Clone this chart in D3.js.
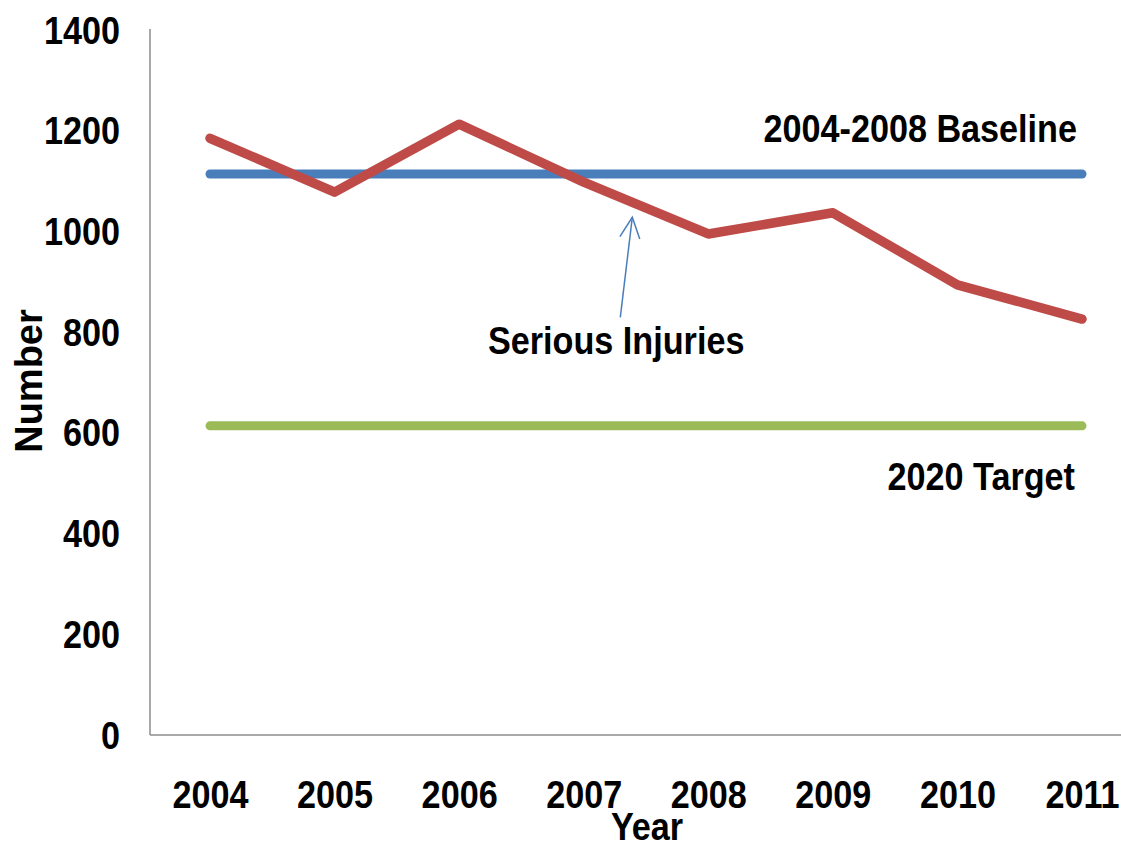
<!DOCTYPE html>
<html>
<head>
<meta charset="utf-8">
<script src="https://cdn.jsdelivr.net/npm/d3@7"></script>
<style>
  html, body { margin: 0; padding: 0; background: #fff; }
  svg { display: block; }
  text { font-family: "Liberation Sans", Arial, sans-serif; font-weight: bold; fill: #000; }
</style>
</head>
<body>
<svg id="chart" width="1121" height="848"></svg>
<script>
// Serious injuries per year, with the 2004-2008 baseline and the 2020 target
const years = ["2004", "2005", "2006", "2007", "2008", "2009", "2010", "2011"];
const seriousInjuries = [1185, 1078, 1213, 1098, 995, 1037, 894, 826];
const baselineValue = 1114;
const targetValue = 614;
const yTicks = [0, 200, 400, 600, 800, 1000, 1200, 1400];

const W = 1121, H = 848;
const plot = { left: 150, top: 30, bottom: 735, right: 1121 };
const fontSize = 38;
const squeeze = 0.9; // horizontal compression of the lettering

const svg = d3.select("#chart");

const x = d3.scalePoint().domain(years).range([210, 1082]);
const y = d3.scaleLinear().domain([0, 1400]).range([plot.bottom, plot.top]);

function label(parent, str, tx, ty, anchor) {
  return parent.append("text")
    .attr("transform", `translate(${tx},${ty}) scale(${squeeze},1)`)
    .attr("text-anchor", anchor)
    .attr("font-size", fontSize)
    .text(str);
}

// Axes (no tick marks, grey rules)
const yAxis = d3.axisLeft(y).tickValues(yTicks).tickSize(0).tickPadding(0).tickFormat(d3.format("d"));
const gy = svg.append("g").attr("transform", `translate(${plot.left},0)`).call(yAxis);
gy.select(".domain").remove();
gy.selectAll(".tick text")
  .attr("font-size", fontSize)
  .attr("font-family", null)
  .attr("x", null).attr("dy", null)
  .attr("text-anchor", "end")
  .attr("dominant-baseline", "central")
  .attr("transform", `translate(-30,0) scale(${squeeze},1)`);

const xAxis = d3.axisBottom(x).tickSize(0).tickPadding(0);
const gx = svg.append("g").attr("transform", `translate(0,${plot.bottom})`).call(xAxis);
gx.select(".domain").remove();
gx.selectAll(".tick text")
  .attr("font-size", fontSize)
  .attr("font-family", null)
  .attr("y", null).attr("dy", null)
  .attr("transform", `translate(0,73) scale(${squeeze},1)`);

svg.append("line")
  .attr("x1", plot.left).attr("x2", plot.left)
  .attr("y1", plot.top - 1).attr("y2", plot.bottom)
  .attr("stroke", "#8c8c8c").attr("stroke-width", 1.5);
svg.append("line")
  .attr("x1", plot.left).attr("x2", plot.right)
  .attr("y1", plot.bottom).attr("y2", plot.bottom)
  .attr("stroke", "#8c8c8c").attr("stroke-width", 1.5);

// Reference levels
const refLine = d3.line().x(d => x(d[0])).y(d => y(d[1]));
svg.append("path")
  .attr("d", refLine([[years[0], baselineValue], [years[years.length - 1], baselineValue]]))
  .attr("fill", "none").attr("stroke", "#4A7EBB").attr("stroke-width", 9)
  .attr("stroke-linecap", "round");
svg.append("path")
  .attr("d", refLine([[years[0], targetValue], [years[years.length - 1], targetValue]]))
  .attr("fill", "none").attr("stroke", "#9BBB59").attr("stroke-width", 9)
  .attr("stroke-linecap", "round");

// Serious injuries series
const seriesLine = d3.line().x((d, i) => x(years[i])).y(d => y(d));
svg.append("path")
  .attr("d", seriesLine(seriousInjuries))
  .attr("fill", "none").attr("stroke", "#BE4B48").attr("stroke-width", 9.5)
  .attr("stroke-linejoin", "round").attr("stroke-linecap", "round");

// Text labels
label(svg, "2004-2008 Baseline", 1077, 142, "end");
label(svg, "2020 Target", 1075, 490, "end");
label(svg, "Serious Injuries", 488, 354, "start");
label(svg, "Year", 647, 840, "middle");
svg.append("text")
  .attr("transform", "translate(42,381) rotate(-90)")
  .attr("text-anchor", "middle")
  .attr("font-size", fontSize)
  .text("Number");

// Arrow pointing from the series label up to the line, just past 2007
const i0 = 3, f = 0.39;
const tipX = x(years[i0]) + f * (x(years[i0 + 1]) - x(years[i0]));
const tipY = y(seriousInjuries[i0]) + f * (y(seriousInjuries[i0 + 1]) - y(seriousInjuries[i0])) + 15;
const tailX = tipX - 12, tailY = tipY + 100;
const ang = Math.atan2(tipY - tailY, tipX - tailX);
const head = 23, spread = 0.45;
const arrow = svg.append("g").attr("fill", "none").attr("stroke", "#4A7EBB").attr("stroke-width", 1.5);
arrow.append("line").attr("x1", tailX).attr("y1", tailY).attr("x2", tipX).attr("y2", tipY);
arrow.append("path").attr("d",
  `M${tipX - head * Math.cos(ang - spread)},${tipY - head * Math.sin(ang - spread)}` +
  `L${tipX},${tipY}` +
  `L${tipX - head * Math.cos(ang + spread)},${tipY - head * Math.sin(ang + spread)}`);
</script>
</body>
</html>
